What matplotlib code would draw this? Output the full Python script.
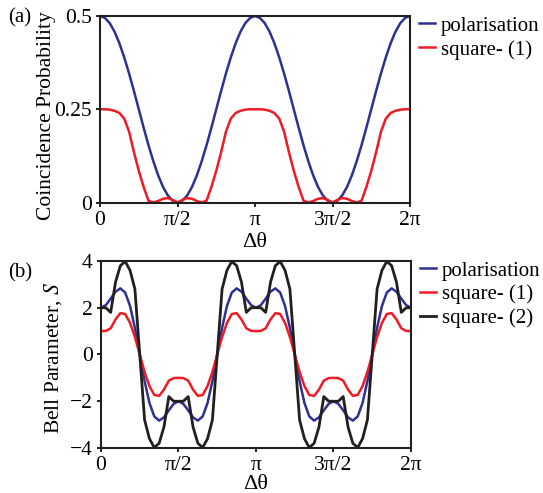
import numpy as np
import matplotlib
matplotlib.use("Agg")
import matplotlib.pyplot as plt

plt.rcParams['font.family'] = ['Liberation Serif', 'DejaVu Serif']
plt.rcParams['mathtext.fontset'] = 'stix'

# ------------------------------------------
# Data, steps of pi / 32
# ------------------------------------------
n_steps = 64
dtheta = np.linspace(0.0, 2.0 * np.pi, n_steps + 1)

# (a) coincidence probability
prob_polarisation = [
    0.500, 0.495, 0.481, 0.458, 0.427, 0.389, 0.346, 0.299, 0.250, 0.201, 0.154,
    0.111, 0.073, 0.042, 0.019, 0.005, 0.000, 0.005, 0.019, 0.042, 0.073, 0.111,
    0.154, 0.201, 0.250, 0.299, 0.346, 0.389, 0.427, 0.458, 0.481, 0.495, 0.500,
    0.495, 0.481, 0.458, 0.427, 0.389, 0.346, 0.299, 0.250, 0.201, 0.154, 0.111,
    0.073, 0.042, 0.019, 0.005, 0.000, 0.005, 0.019, 0.042, 0.073, 0.111, 0.154,
    0.201, 0.250, 0.299, 0.346, 0.389, 0.427, 0.458, 0.481, 0.495, 0.500,
]
prob_square1 = [
    0.250, 0.250, 0.249, 0.246, 0.240, 0.225, 0.190, 0.135, 0.085, 0.042, 0.005,
    0.000, 0.004, 0.010, 0.012, 0.007, 0.000, 0.007, 0.012, 0.010, 0.004, 0.000,
    0.005, 0.042, 0.085, 0.135, 0.190, 0.225, 0.240, 0.246, 0.249, 0.250, 0.250,
    0.250, 0.249, 0.246, 0.240, 0.225, 0.190, 0.135, 0.085, 0.042, 0.005, 0.000,
    0.004, 0.010, 0.012, 0.007, 0.000, 0.007, 0.012, 0.010, 0.004, 0.000, 0.005,
    0.042, 0.085, 0.135, 0.190, 0.225, 0.240, 0.246, 0.249, 0.250, 0.250,
]

# (b) Bell parameter
bell_polarisation = [
    2.000, 2.111, 2.389, 2.689, 2.828, 2.648, 2.072, 1.141, 0.000, -1.141, -2.072,
    -2.648, -2.828, -2.689, -2.389, -2.111, -2.000, -2.111, -2.389, -2.689, -2.828, -2.648,
    -2.072, -1.141, 0.000, 1.141, 2.072, 2.648, 2.828, 2.689, 2.389, 2.111, 2.000,
    2.111, 2.389, 2.689, 2.828, 2.648, 2.072, 1.141, 0.000, -1.141, -2.072, -2.648,
    -2.828, -2.689, -2.389, -2.111, -2.000, -2.111, -2.389, -2.689, -2.828, -2.648, -2.072,
    -1.141, 0.000, 1.141, 2.072, 2.648, 2.828, 2.689, 2.389, 2.111, 2.000,
]
bell_square1 = [
    1.00, 1.01, 1.12, 1.50, 1.77, 1.73, 1.35, 0.75, 0.00, -0.75, -1.35,
    -1.73, -1.77, -1.50, -1.12, -1.01, -1.00, -1.01, -1.12, -1.50, -1.77, -1.73,
    -1.35, -0.75, 0.00, 0.75, 1.35, 1.73, 1.77, 1.50, 1.12, 1.01, 1.00,
    1.01, 1.12, 1.50, 1.77, 1.73, 1.35, 0.75, 0.00, -0.75, -1.35, -1.73,
    -1.77, -1.50, -1.12, -1.01, -1.00, -1.01, -1.12, -1.50, -1.77, -1.73, -1.35,
    -0.75, 0.00, 0.75, 1.35, 1.73, 1.77, 1.50, 1.12, 1.01, 1.00,
]
bell_square2 = [
    2.00, 2.00, 1.80, 3.10, 3.80, 3.98, 3.60, 2.80, 0.00, -2.80, -3.60,
    -3.98, -3.80, -3.10, -1.80, -2.00, -2.00, -2.00, -1.80, -3.10, -3.80, -3.98,
    -3.60, -2.80, 0.00, 2.80, 3.60, 3.98, 3.80, 3.10, 1.80, 2.00, 2.00,
    2.00, 1.80, 3.10, 3.80, 3.98, 3.60, 2.80, 0.00, -2.80, -3.60, -3.98,
    -3.80, -3.10, -1.80, -2.00, -2.00, -2.00, -1.80, -3.10, -3.80, -3.98, -3.60,
    -2.80, 0.00, 2.80, 3.60, 3.98, 3.80, 3.10, 1.80, 2.00, 2.00,
]

xtick_vals = [0.0, np.pi / 2, np.pi, 3 * np.pi / 2, 2 * np.pi]
xtick_labels = ["0", "π/2", "π", "3π/2", "2π"]

c_blue = "#2e3192"
c_red = "#ed1c24"
c_black = "#231f20"


def style_axes(ax, xpad):
    ax.set_xlim(0.0, 2.0 * np.pi)
    ax.set_xticks(xtick_vals)
    ax.set_xticklabels(xtick_labels)
    ax.tick_params(direction="out", length=3, width=1.2, labelsize=15.5, pad=3)
    for sp in ax.spines.values():
        sp.set_linewidth(1.5)
        sp.set_color(c_black)
    ax.set_xlabel("Δθ", fontsize=16, labelpad=xpad)
    ax.legend(loc="upper left", bbox_to_anchor=(1.03, 1.0), frameon=False,
              fontsize=15, handlelength=0.75, handletextpad=0.3, labelspacing=0.2,
              borderaxespad=0.0, borderpad=0.0)


fig = plt.figure(figsize=(5.43, 4.93), dpi=100)

# (a)
ax1 = fig.add_axes([0.1842, 0.5892, 0.5709, 0.3783])
ax1.plot(dtheta, prob_polarisation, color=c_blue, lw=1.8, label="polarisation")
ax1.plot(dtheta, prob_square1, color=c_red, lw=1.8, label="square- (1)")
ax1.set_ylim(0.0, 0.5)
ax1.set_yticks([0.0, 0.25, 0.5])
ax1.set_yticklabels(["0", "0.25", "0.5"])
style_axes(ax1, 2)
ax1.set_ylabel("Coincidence Probability", fontsize=15.5)
ax1.yaxis.set_label_coords(-0.142, 0.468)
fig.text(0.015, 0.955, "(a)", fontsize=15)

# (b)
ax2 = fig.add_axes([0.186, 0.0913, 0.5709, 0.3793])
ax2.plot(dtheta, bell_polarisation, color=c_blue, lw=1.8, label="polarisation")
ax2.plot(dtheta, bell_square1, color=c_red, lw=1.8, label="square- (1)")
ax2.plot(dtheta, bell_square2, color=c_black, lw=2.0, label="square- (2)")
ax2.set_ylim(-4.0, 4.0)
ax2.set_yticks([-4, -2, 0, 2, 4])
style_axes(ax2, 0)
ax2.set_ylabel("Bell Parameter, $S$", fontsize=15.5)
ax2.yaxis.set_label_coords(-0.119, 0.48)
fig.text(0.015, 0.438, "(b)", fontsize=15)

fig.savefig("out.png", dpi=100)
